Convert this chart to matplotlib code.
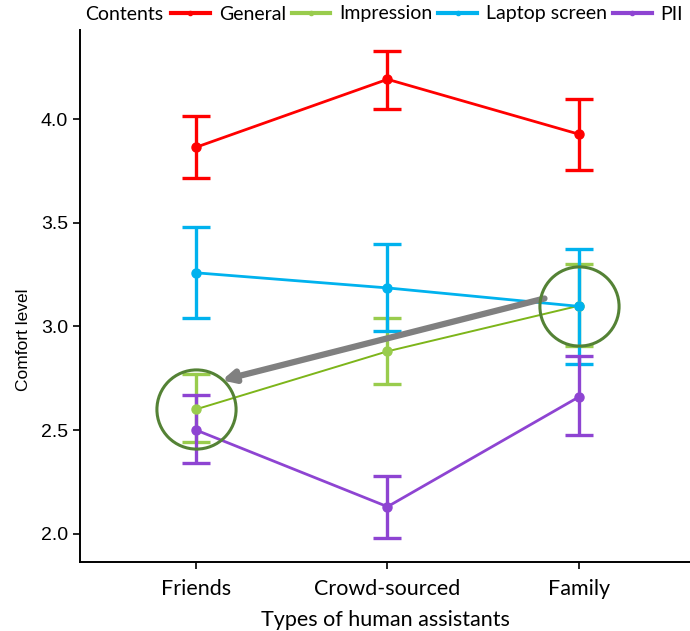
import matplotlib
matplotlib.use("Agg")
import matplotlib.pyplot as plt
from matplotlib.lines import Line2D

groups = ["Friends", "Crowd-sourced", "Family"]
series = ["General", "Impression", "Laptop screen", "PII"]
mean_general = [3.865, 4.193, 3.928]
low_general = [3.718, 4.05, 3.754]
high_general = [4.017, 4.331, 4.10]
mean_impression = [2.60, 2.88, 3.10]
low_impression = [2.44, 2.72, 2.907]
high_impression = [2.77, 3.04, 3.30]
mean_laptop = [3.259, 3.186, 3.097]
low_laptop = [3.043, 2.98, 2.818]
high_laptop = [3.478, 3.40, 3.374]
mean_pii = [2.50, 2.13, 2.66]
low_pii = [2.34, 1.98, 2.477]
high_pii = [2.67, 2.28, 2.855]

colors = {"General": "#FF0000", "Impression": "#99CC4D", "Laptop screen": "#00B2EE", "PII": "#8E44D2"}
line_colors = {"General": "#FF0000", "Impression": "#7DB51A", "Laptop screen": "#00B2EE", "PII": "#8E44D2"}
line_widths = {"General": 2.0, "Impression": 1.4, "Laptop screen": 2.0, "PII": 2.0}

data = {
    "General": (mean_general, low_general, high_general),
    "Impression": (mean_impression, low_impression, high_impression),
    "Laptop screen": (mean_laptop, low_laptop, high_laptop),
    "PII": (mean_pii, low_pii, high_pii),
}

fig = plt.figure(figsize=(6.9, 6.31), dpi=100)
ax = fig.add_axes([80/690, 69/631, 610/690, 532/631])
xs = [1, 2, 3]

for s in series:
    m, lo, hi = data[s]
    yerr = [[mm - l for mm, l in zip(m, lo)], [h - mm for mm, h in zip(m, hi)]]
    ax.errorbar(xs, m, yerr=yerr, fmt="none", ecolor=colors[s], elinewidth=2.4,
                capsize=10, capthick=2.4, zorder=2)
    ax.plot(xs, m, color=line_colors[s], lw=line_widths[s], marker="o",
            markersize=6.5, markerfacecolor=colors[s], markeredgecolor=colors[s], zorder=3)

# highlight circles
ax.plot([1], [mean_impression[0]], marker="o", markersize=57, markerfacecolor="none",
        markeredgecolor="#548235", markeredgewidth=2.2, zorder=5)
ax.plot([3], [mean_laptop[2]], marker="o", markersize=57, markerfacecolor="none",
        markeredgecolor="#548235", markeredgewidth=2.2, zorder=5)

# arrow
ax.annotate("", xy=(1.135, 2.74), xytext=(2.82, 3.135),
            arrowprops=dict(arrowstyle="-|>,head_length=0.7,head_width=0.35",
                            color="#808080", lw=4.5, shrinkA=0, shrinkB=0), zorder=4)

ax.set_xlim(0.394, 3.58)
ax.set_ylim(1.863, 4.431)
ax.set_xticks(xs)
ax.set_xticklabels(groups, fontsize=15.5, family="Lato")
ax.set_yticks([2.0, 2.5, 3.0, 3.5, 4.0])
ax.set_yticklabels(["2.0", "2.5", "3.0", "3.5", "4.0"], fontsize=14, family="Liberation Sans")
ax.spines["top"].set_visible(False)
ax.spines["right"].set_visible(False)
ax.spines["left"].set_linewidth(1.4)
ax.spines["bottom"].set_linewidth(1.4)
ax.tick_params(length=5, width=1.2)
ax.tick_params(axis="x", pad=7)
ax.set_xlabel("Types of human assistants", fontsize=15.5, family="Lato", labelpad=8)
ax.set_ylabel("Comfort level", fontsize=12.5, family="Liberation Sans")
ax.yaxis.set_label_coords(-0.08, 0.417)

fig.text(85/690, 1 - 14/631, "Contents", fontsize=14, family="Lato", ha="left", va="center")
handles = []
for s in series:
    handles.append(Line2D([], [], color=colors[s], lw=3, marker="o", markersize=3))
leg = fig.legend(handles, series, loc="center left", bbox_to_anchor=(171/690, 1 - 14/631), ncol=4,
                 frameon=False, prop={"family": "Lato", "size": 14}, borderpad=0,
                 handlelength=2.0, handletextpad=0.45, columnspacing=0.3, borderaxespad=0.0)

fig.savefig("out.png", dpi=100)
